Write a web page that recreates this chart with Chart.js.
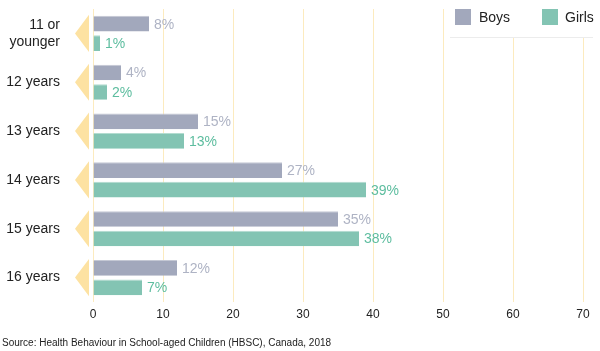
<!DOCTYPE html>
<html>
<head>
<meta charset="utf-8">
<script src="https://cdn.jsdelivr.net/npm/chart.js@4"></script>
<style>
	body { margin: 0; background: #fff; }
	#wrap { width: 600px; height: 351px; position: relative; }
</style>
</head>
<body>
<div id="wrap"><canvas id="myChart"></canvas></div>
<script>
// 데이터
const categories = [['11 or', 'younger'], '12 years', '13 years', '14 years', '15 years', '16 years'];
const boys = [8, 4, 15, 27, 35, 12];
const girls = [1, 2, 13, 39, 38, 7];
const xTicks = [0, 10, 20, 30, 40, 50, 60, 70];
const sourceText = 'Source: Health Behaviour in School-aged Children (HBSC), Canada, 2018';

const FONT = "'Liberation Sans', Arial, sans-serif";

// 화살표 + 값 라벨 + 범례 + 출처
const extras = {
	id: 'extras',
	beforeDatasetsDraw(chart) {
		let ctx = chart.ctx;
		let y = chart.scales.y;
		let band = (y.bottom - y.top) / categories.length;
		ctx.save();
		ctx.fillStyle = '#fde2a2';
		for (let i = 0; i < categories.length; i++) {
			let cy = y.getPixelForValue(i);
			let h = band * 0.38;
			ctx.beginPath();
			ctx.moveTo(75, cy);
			ctx.lineTo(89, cy - h);
			ctx.lineTo(89, cy + h);
			ctx.closePath();
			ctx.fill();
		}
		ctx.restore();
	},
	afterDatasetsDraw(chart) {
		let ctx = chart.ctx;
		ctx.save();
		ctx.font = '14px ' + FONT;
		ctx.textBaseline = 'middle';
		ctx.textAlign = 'left';
		let labelColors = ['#aeb3c4', '#5dbd9f'];
		chart.data.datasets.forEach((ds, di) => {
			let meta = chart.getDatasetMeta(di);
			meta.data.forEach((bar, i) => {
				ctx.fillStyle = labelColors[di];
				ctx.fillText(ds.data[i] + '%', bar.x + 5, bar.y + 1);
			});
		});

		// 범례
		ctx.fillStyle = '#fff';
		ctx.fillRect(450, 0, 150, 37);
		ctx.strokeStyle = '#ececec';
		ctx.lineWidth = 1;
		ctx.beginPath();
		ctx.moveTo(450, 37.5);
		ctx.lineTo(593, 37.5);
		ctx.stroke();
		ctx.font = '14px ' + FONT;
		ctx.fillStyle = '#a2a8bc';
		ctx.fillRect(455, 9, 16, 16);
		ctx.fillStyle = '#83c4b3';
		ctx.fillRect(542, 9, 16, 16);
		ctx.fillStyle = '#222';
		ctx.fillText(chart.data.datasets[0].label, 479, 18);
		ctx.fillText(chart.data.datasets[1].label, 565, 18);

		// 출처
		ctx.font = '10px ' + FONT;
		ctx.fillStyle = '#222';
		ctx.fillText(sourceText, 2, 343);
		ctx.restore();
	}
};

window.addEventListener("load", function() {
	let data = {
		labels: categories,
		datasets: [
			{
				label: 'Boys',
				backgroundColor: '#a2a8bc',
				borderColor: '#c4c8d4',
				borderWidth: { top: 1, bottom: 0, left: 0, right: 0 },
				borderSkipped: false,
				data: boys
			},
			{
				label: 'Girls',
				backgroundColor: '#83c4b3',
				borderColor: '#b3dcd0',
				borderWidth: { top: 1, bottom: 0, left: 0, right: 0 },
				borderSkipped: false,
				data: girls
			}
		]
	};

	let options = {
		indexAxis: 'y',
		responsive: true,
		maintainAspectRatio: false,
		animation: false,
		layout: { padding: { top: 9, right: 17, bottom: 27, left: 0 } },
		categoryPercentage: 0.8,
		barPercentage: 0.8,
		scales: {
			x: {
				min: 0,
				max: 70,
				afterBuildTicks(scale) { scale.ticks = xTicks.map(v => ({ value: v })); },
				afterFit(scale) { scale.height = 22; scale.paddingLeft = 0; scale.paddingRight = 0; },
				grid: { color: '#fcebbf', drawTicks: false, lineWidth: 1 },
				border: { display: false },
				ticks: { color: '#222', font: { size: 12, family: FONT }, padding: 5 }
			},
			y: {
				afterFit(scale) { scale.width = 93; scale.paddingTop = 0; scale.paddingBottom = 0; },
				grid: { display: false },
				border: { display: false },
				ticks: { color: '#222', font: { size: 14, family: FONT }, padding: 25 }
			}
		},
		plugins: {
			legend: { display: false },
			tooltip: { enabled: false }
		}
	};

	const ctx = document.getElementById('myChart').getContext('2d');

	let myChart = new Chart(ctx, {
		type: 'bar',
		data: data,
		options: options,
		plugins: [extras]
	});
})
</script>
</body>
</html>
